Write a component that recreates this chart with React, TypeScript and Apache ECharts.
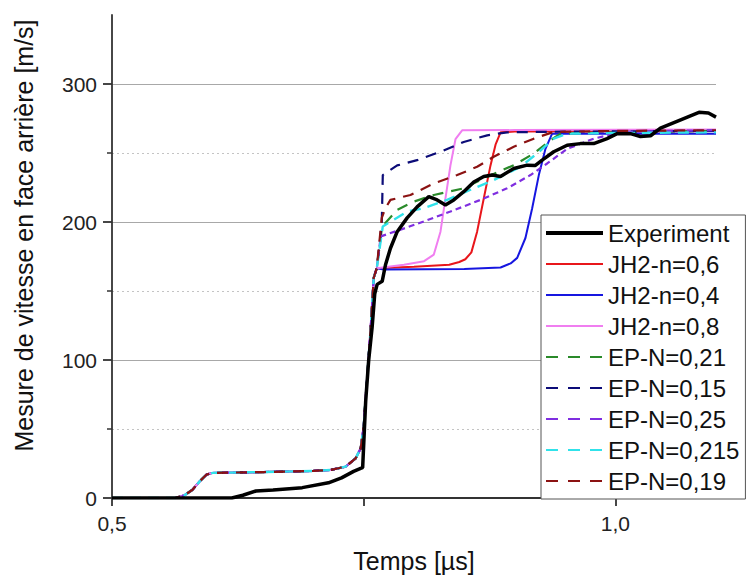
import React, { useEffect, useRef } from 'react';
import * as echarts from 'echarts';

const FONT = '"Liberation Sans", Arial, Helvetica, sans-serif';

const seriesNames = [
  'Experiment',
  'JH2-n=0,6',
  'JH2-n=0,4',
  'JH2-n=0,8',
  'EP-N=0,21',
  'EP-N=0,15',
  'EP-N=0,25',
  'EP-N=0,215',
  'EP-N=0,19',
];

const seriesColors = [
  '#000000',
  '#e8161b',
  '#1616e0',
  '#f07ef0',
  '#2a8a2a',
  '#0c0c78',
  '#7f2ee0',
  '#30e2ea',
  '#8b1212',
];

const xTickValues = [0.5, 0.75, 1.0];
const xLabelValues = [0.5, 1.0];
const yLabelValues = [0, 100, 200, 300];
const yMinorTickValues = [50, 150, 250];

// Experimental curve [time µs, velocity m/s]
const experiment: [number, number][] = [
  [0.5, 0], [0.619, 0], [0.63, 2], [0.643, 5.1], [0.66, 5.8], [0.689, 7.5], [0.715, 11],
  [0.728, 14.6], [0.74, 19.3], [0.747, 21.5], [0.749, 22], [0.752, 70], [0.755, 100],
  [0.7584, 123.6], [0.761, 148], [0.7634, 154.8], [0.7684, 157], [0.7717, 169], [0.7766, 181],
  [0.7833, 193], [0.7932, 203], [0.8031, 211], [0.8147, 218.4], [0.823, 216], [0.8312, 212.4],
  [0.8395, 216], [0.8494, 222], [0.8594, 229], [0.8693, 233], [0.8776, 234], [0.8859, 233],
  [0.8991, 238.8], [0.9124, 241.2], [0.9206, 241], [0.9273, 244.8], [0.9388, 250.9],
  [0.9521, 255.6], [0.9653, 256.8], [0.9785, 256.8], [0.9918, 260.4], [1.0018, 264],
  [1.015, 264], [1.0249, 262], [1.035, 262.5], [1.0448, 268], [1.0637, 273.7],
  [1.0831, 279.5], [1.0925, 279], [1.1, 276],
];

// Shared beginning of every simulated curve
const simStart: [number, number][] = [
  [0.5, 0], [0.563, 0], [0.572, 2], [0.58, 6], [0.587, 12], [0.594, 17], [0.6, 18.2],
  [0.65, 18.8], [0.7, 19.6], [0.717, 20.3], [0.732, 22.7], [0.742, 28.7], [0.747, 35.9],
  [0.75, 51.5], [0.752, 73], [0.7535, 87.5], [0.757, 123.6], [0.76, 159.6], [0.763, 166.5],
];

const jh2n06Tail: [number, number][] = [
  [0.8, 167.5], [0.835, 169], [0.845, 171], [0.851, 173], [0.857, 178], [0.8627, 193],
  [0.8693, 217], [0.876, 241], [0.881, 256], [0.886, 265], [0.9, 265.5], [1.1, 266],
];
const jh2n04Tail: [number, number][] = [
  [0.77, 165.5], [0.85, 166], [0.886, 167], [0.896, 170], [0.9025, 174], [0.9107, 188.4],
  [0.9174, 210], [0.924, 234], [0.9306, 253], [0.9372, 264], [0.96, 264], [1.1, 264],
];
const jh2n08Tail: [number, number][] = [
  [0.79, 169], [0.81, 171.6], [0.8197, 176.4], [0.8263, 193], [0.8312, 217], [0.8362, 241],
  [0.8412, 260], [0.8478, 266.4], [0.9, 266.6], [1.1, 267],
];
const ep021Tail: [number, number][] = [
  [0.768, 195], [0.77, 198], [0.7833, 208.8], [0.8, 214.8], [0.8197, 219.6], [0.8494, 224.4],
  [0.8693, 231.6], [0.8991, 241.2], [0.919, 249.6], [0.9355, 259.2], [0.9455, 264],
  [1.0, 265], [1.1, 266],
];
const ep015Tail: [number, number][] = [
  [0.766, 185], [0.768, 200], [0.769, 234], [0.7833, 241], [0.8031, 244.8], [0.8263, 250.9],
  [0.8494, 258], [0.8727, 262.8], [0.8925, 265], [0.95, 265.5], [1.1, 266],
];
const ep025Tail: [number, number][] = [
  [0.767, 189.6], [0.7865, 194.4], [0.8097, 200.4], [0.8362, 207.6], [0.866, 216],
  [0.8925, 224.4], [0.9157, 234], [0.9323, 242.4], [0.9521, 253], [0.9785, 260.4],
  [1.008, 265.3], [1.05, 266], [1.1, 266.5],
];
const ep0215Tail: [number, number][] = [
  [0.769, 196.8], [0.7932, 207.6], [0.8097, 210], [0.8329, 216], [0.8594, 224.4],
  [0.8792, 230.4], [0.9056, 240], [0.9223, 249.6], [0.9388, 260.4], [0.9521, 264],
  [1.0, 264.5], [1.1, 265],
];
const ep019Tail: [number, number][] = [
  [0.768, 203], [0.7716, 210], [0.7766, 216], [0.7965, 219.6], [0.8197, 228], [0.8429, 234],
  [0.8627, 240], [0.8792, 247.3], [0.8991, 254.5], [0.919, 260.4], [0.9388, 265.3],
  [1.0, 266], [1.1, 266.5],
];

const seriesData: [number, number][][] = [
  experiment,
  simStart.concat(jh2n06Tail),
  simStart.concat(jh2n04Tail),
  simStart.concat(jh2n08Tail),
  simStart.concat(ep021Tail),
  simStart.concat(ep015Tail),
  simStart.concat(ep025Tail),
  simStart.concat(ep0215Tail),
  simStart.concat(ep019Tail),
];

const seriesDash: (string | number[])[] = [
  'solid', 'solid', 'solid', 'solid', [11, 8], [11, 8], [6, 4], [11, 7], [11, 8],
];
const seriesWidth = [3.5, 2, 2, 2, 2.2, 2.2, 2.2, 2.4, 2.2];

const comma = (v: number) => v.toFixed(1).replace('.', ',');

export default function App() {
  const ref = useRef<HTMLDivElement>(null);
  useEffect(() => {
    document.body.style.margin = '0';
    const chart = echarts.init(ref.current!, null, { renderer: 'svg' });
    const option: any = {
      animation: false,
      backgroundColor: '#ffffff',
      textStyle: { fontFamily: FONT },
      grid: { left: 112, right: 34, top: 15, bottom: 77, containLabel: false },
      xAxis: {
        type: 'value',
        min: 0.5,
        max: 1.1,
        interval: 0.25,
        name: 'Temps [µs]',
        nameLocation: 'middle',
        nameGap: 50,
        nameTextStyle: { fontSize: 25, color: '#111', fontFamily: FONT },
        axisLine: { show: true, lineStyle: { color: '#333', width: 1.8 } },
        axisTick: {
          show: true,
          inside: false,
          length: 8,
          customValues: xTickValues,
          lineStyle: { color: '#333', width: 1.8 },
        },
        axisLabel: {
          customValues: xLabelValues,
          formatter: (v: number) => comma(v),
          fontSize: 21,
          color: '#222',
          margin: 15,
          fontFamily: FONT,
        },
        splitLine: { show: false },
      },
      yAxis: [
        {
          type: 'value',
          min: 0,
          max: 350,
          interval: 100,
          name: 'Mesure de vitesse en face arrière [m/s]',
          nameLocation: 'middle',
          nameRotate: 90,
          nameGap: 76,
          nameTextStyle: { fontSize: 25, color: '#111', fontFamily: FONT, padding: [0, 0, 0, 42] },
          axisLine: { show: true, lineStyle: { color: '#333', width: 1.8 } },
          axisTick: {
            show: true,
            inside: false,
            length: 9,
            customValues: yLabelValues,
            lineStyle: { color: '#333', width: 1.8 },
          },
          axisLabel: {
            customValues: yLabelValues,
            fontSize: 21,
            color: '#222',
            margin: 15,
            fontFamily: FONT,
          },
          splitLine: {
            show: true,
            lineStyle: { color: '#a8a8a8', width: 1, type: 'solid' },
          },
        },
        {
          type: 'value',
          min: 0,
          max: 350,
          interval: 50,
          position: 'left',
          axisLine: { show: false },
          axisTick: {
            show: true,
            inside: false,
            length: 5,
            customValues: yMinorTickValues,
            lineStyle: { color: '#333', width: 1.5 },
          },
          axisLabel: { show: false },
          splitLine: {
            show: true,
            lineStyle: { color: '#c4c4c4', width: 1, type: [2, 3] },
          },
        },
      ],
      legend: {
        orient: 'vertical',
        left: 541,
        top: 215,
        padding: [5, 6, 5, 3],
        backgroundColor: '#ffffff',
        borderColor: '#555',
        borderWidth: 1,
        borderRadius: 0,
        itemWidth: 57,
        itemHeight: 14,
        itemGap: 5,
        selectedMode: false,
        itemStyle: { opacity: 0 },
        textStyle: { fontSize: 24, lineHeight: 26, color: '#111', fontFamily: FONT },
        data: seriesNames.map((n, i) => ({
          name: n,
          lineStyle: i >= 4 ? { type: [12, 10], width: 2.2 } : { width: i === 0 ? 4 : 2 },
        })),
      },
      series: seriesNames.map((n, i) => ({
        name: n,
        type: 'line',
        yAxisIndex: 0,
        data: seriesData[i],
        symbol: 'none',
        showSymbol: false,
        smooth: false,
        z: i === 0 ? 3 : 2,
        lineStyle: { color: seriesColors[i], width: seriesWidth[i], type: seriesDash[i] },
        itemStyle: { color: seriesColors[i] },
      })),
    };
    chart.setOption(option);
    return () => chart.dispose();
  }, []);
  return <div ref={ref} style={{ width: 750, height: 578 }} />;
}
